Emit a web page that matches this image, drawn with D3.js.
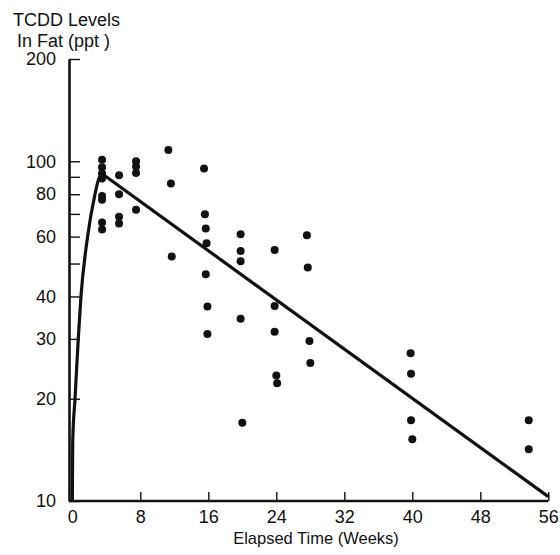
<!DOCTYPE html>
<html>
<head>
<meta charset="utf-8">
<script src="https://cdn.jsdelivr.net/npm/d3@7"></script>
<style>
  body { margin: 0; background: #fff; }
  text { font-family: "Liberation Sans", Arial, sans-serif; fill: #111; }
</style>
</head>
<body>
<div id="chart"></div>
<script>
// weeks after exposure and TCDD in fat (ppt)
var weeks = [
  3.5, 3.5, 3.5, 3.5, 3.5, 3.5, 3.5, 3.5,
  5.5, 5.5, 5.5, 5.5,
  7.5, 7.5, 7.5, 7.5,
  11.3, 11.6, 11.7,
  15.5, 15.6, 15.7, 15.8, 15.7, 15.9, 15.9,
  19.8, 19.8, 19.8, 19.8, 20,
  23.8, 23.8, 23.8, 24, 24.1,
  27.6, 27.7, 27.9, 28,
  39.8, 39.85, 39.85, 40,
  53.7, 53.7
];
var levels = [
  101, 96, 92, 89, 79, 77, 66, 63,
  91, 80, 68.6, 65.6,
  100, 96.5, 92.3, 72,
  108, 86, 52.4,
  95.2, 69.8, 63.4, 57.4, 46.5, 37.4, 31,
  61, 54.4, 50.8, 34.4, 17,
  54.8, 37.5, 31.5, 23.4, 22.2,
  60.6, 48.7, 29.6, 25.5,
  27.2, 23.7, 17.3, 15.2,
  17.3, 14.2
];

// fitted curve: uptake part then straight decline
var riseWeeks = [0, 0.05, 0.32, 0.7, 1.02, 1.8, 2.67, 3.06, 3.46];
var riseLevels = [10, 15, 20, 30, 40, 60, 80, 88, 92];
var fallWeeks = [3.46, 56];
var fallLevels = [92, 10.3];

// axis ticks
var xTicks = [0, 8, 16, 24, 32, 40, 48, 56];
var yTicks = [10, 20, 30, 40, 50, 60, 70, 80, 90, 100, 200];
var yLabels = [10, 20, 30, 40, 60, 80, 100, 200];

var svgWidth = 560;
var svgHeight = 555;

var svg = d3.select("#chart")
  .append("svg")
  .attr("width", svgWidth)
  .attr("height", svgHeight);

// scales
var xScale = d3.scaleLinear()
  .domain([0, 56])
  .range([72.3, 548.3]);

var yScale = d3.scaleLog()
  .domain([10, 200])
  .range([501, 59]);

// axes
var xAxis = d3.axisBottom(xScale)
  .tickValues(xTicks)
  .tickSize(-9)
  .tickSizeOuter(0)
  .tickPadding(9);

var yAxis = d3.axisLeft(yScale)
  .tickValues(yTicks)
  .tickSize(-11)
  .tickSizeOuter(0)
  .tickPadding(13)
  .tickFormat(function (d) {
    return yLabels.indexOf(d) >= 0 ? d : "";
  });

var xGroup = svg.append("g")
  .attr("transform", "translate(0, 501)")
  .call(xAxis);

var yGroup = svg.append("g")
  .attr("transform", "translate(69, 0)")
  .call(yAxis);

// style both axes the same
[xGroup, yGroup].forEach(function (g) {
  g.select(".domain")
    .attr("stroke", "#111")
    .attr("stroke-width", 2.6);
  g.selectAll(".tick line")
    .attr("stroke", "#111")
    .attr("stroke-width", 1.4);
  g.selectAll(".tick text")
    .style("font-size", "18px")
    .attr("fill", "#111");
});

// stretch the x axis line back to the y axis
xGroup.select(".domain").attr("d", "M69,0H548.3");

// fitted curve
var line = d3.line()
  .x(function (d) { return xScale(d[0]); })
  .y(function (d) { return yScale(d[1]); });

svg.append("path")
  .datum(riseWeeks.map(function (w, i) { return [w, riseLevels[i]]; }))
  .attr("d", line.curve(d3.curveMonotoneX))
  .attr("fill", "none")
  .attr("stroke", "#111")
  .attr("stroke-width", 3.2);

svg.append("path")
  .datum(fallWeeks.map(function (w, i) { return [w, fallLevels[i]]; }))
  .attr("d", line.curve(d3.curveLinear))
  .attr("fill", "none")
  .attr("stroke", "#111")
  .attr("stroke-width", 3.2);

// data points
svg.selectAll("circle")
  .data(weeks)
  .enter()
  .append("circle")
  .attr("cx", function (d) { return xScale(d); })
  .attr("cy", function (d, i) { return yScale(levels[i]); })
  .attr("r", 4)
  .attr("fill", "#111");

// y axis title
svg.append("text")
  .attr("x", 13)
  .attr("y", 26)
  .style("font-size", "18px")
  .text("TCDD Levels");

svg.append("text")
  .attr("x", 17)
  .attr("y", 47)
  .style("font-size", "18px")
  .text("In Fat (ppt )");

// x axis title
svg.append("text")
  .attr("x", 316)
  .attr("y", 544)
  .attr("text-anchor", "middle")
  .style("font-size", "16.5px")
  .text("Elapsed Time (Weeks)");
</script>
</body>
</html>
